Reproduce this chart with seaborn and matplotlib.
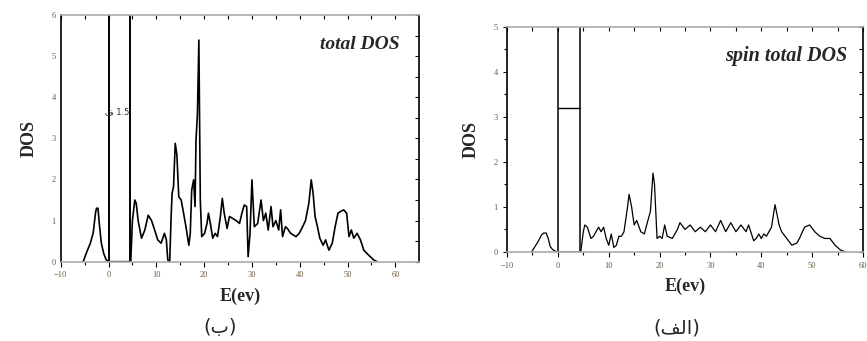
import matplotlib
matplotlib.use("Agg")
import matplotlib.pyplot as plt
import seaborn as sns
import pandas as pd

# ---------------- data ----------------
# left panel (ب): total DOS
total_E = [-5.3, -4.5, -3.8, -3.2, -2.7, -2.5, -2.2, -1.9, -1.5, -1.0, -0.5, 0.0,
           4.6, 4.65, 5.0, 5.5, 5.8, 6.2, 6.9, 7.6, 8.3, 9.0, 9.65, 10.3, 11.0, 11.7,
           12.1, 12.4, 12.8, 13.1, 13.3, 13.6, 13.96, 14.3, 14.7, 15.2, 15.7, 16.2,
           16.8, 17.1, 17.4, 17.8, 18.1, 18.3, 18.6, 18.9, 19.2, 19.5, 20.1, 20.6,
           20.9, 21.3, 21.8, 22.3, 22.8, 23.4, 23.8, 24.2, 24.8, 25.3, 26.0, 26.7,
           27.4, 27.9, 28.4, 28.9, 29.2, 29.6, 30.0, 30.5, 31.2, 31.9, 32.4, 32.9,
           33.4, 34.0, 34.4, 35.0, 35.6, 36.0, 36.4, 37.0, 37.4, 38.1, 39.2, 39.9,
           40.6, 41.2, 41.9, 42.4, 42.8, 43.2, 43.7, 44.2, 44.9, 45.4, 46.1, 46.8,
           47.4, 48.0, 48.5, 49.2, 49.8, 50.3, 50.8, 51.3, 52.0, 52.7, 53.4, 54.4,
           55.5, 56.2]
total_DOS = [0.0, 0.25, 0.45, 0.7, 1.2, 1.3, 1.3, 0.9, 0.45, 0.2, 0.05, 0.0,
             0.0, 0.0, 1.0, 1.5, 1.42, 1.0, 0.57, 0.77, 1.13, 1.0, 0.77, 0.53, 0.45, 0.69,
             0.53, 0.04, 0.0, 1.1, 1.66, 1.82, 2.88, 2.6, 1.58, 1.5, 1.18, 0.85,
             0.4, 0.69, 1.74, 1.99, 1.34, 2.96, 3.6, 5.39, 1.5, 0.61, 0.69, 0.93,
             1.18, 0.93, 0.57, 0.69, 0.61, 1.1, 1.54, 1.18, 0.81, 1.1, 1.05, 1.0,
             0.93, 1.18, 1.38, 1.34, 0.12, 0.69, 1.99, 0.85, 0.93, 1.5, 1.0, 1.18,
             0.77, 1.34, 0.85, 1.0, 0.77, 1.26, 0.61, 0.85, 0.81, 0.69, 0.61, 0.69,
             0.85, 1.0, 1.42, 1.99, 1.66, 1.1, 0.85, 0.57, 0.4, 0.53, 0.28, 0.45,
             0.85, 1.18, 1.22, 1.26, 1.18, 0.61, 0.77, 0.57, 0.69, 0.53, 0.28, 0.16,
             0.04, 0.0]
total_gap = [0.0, 4.6]

# right panel (الف): spin total DOS
spin_E = [-5.2, -4.5, -3.8, -3.2, -2.8, -2.3, -1.9, -1.5, -1.0, -0.5, -0.25,
          4.3, 4.5, 5.0, 5.3, 5.8, 6.5, 7.0, 8.0, 8.5, 9.0, 9.5, 10.0, 10.5, 11.0,
          11.5, 12.0, 12.5, 13.0, 13.7, 14.0, 14.5, 15.0, 15.5, 16.3, 17.0, 17.7,
          18.2, 18.7, 19.0, 19.5, 20.0, 20.5, 21.0, 21.5, 22.5, 23.5, 24.0, 25.0,
          26.0, 27.0, 28.0, 29.0, 30.0, 31.0, 32.0, 33.0, 34.0, 35.0, 36.0, 37.0,
          37.5, 38.5, 39.0, 39.5, 40.0, 40.5, 41.0, 42.0, 42.7, 43.5, 44.0, 45.0,
          46.0, 47.0, 47.5, 48.5, 49.5, 50.5, 51.5, 52.5, 53.5, 54.5, 55.5, 56.5]
spin_DOS = [0.0, 0.12, 0.25, 0.38, 0.42, 0.42, 0.3, 0.12, 0.05, 0.02, 0.0,
            0.0, 0.0, 0.45, 0.6, 0.55, 0.3, 0.35, 0.55, 0.45, 0.55, 0.3, 0.15, 0.4, 0.1,
            0.15, 0.35, 0.35, 0.45, 1.0, 1.28, 1.0, 0.6, 0.7, 0.45, 0.4, 0.7,
            0.9, 1.75, 1.5, 0.3, 0.35, 0.3, 0.6, 0.35, 0.3, 0.5, 0.65, 0.5,
            0.6, 0.45, 0.55, 0.45, 0.6, 0.45, 0.7, 0.45, 0.65, 0.45, 0.6, 0.45,
            0.6, 0.25, 0.3, 0.4, 0.3, 0.4, 0.35, 0.55, 1.05, 0.6, 0.45, 0.3,
            0.15, 0.2, 0.3, 0.55, 0.6, 0.45, 0.35, 0.3, 0.3, 0.15, 0.05, 0.0]
spin_gap = [0.0, 4.3]
spin_bracket_y = 3.2

x_ticks = [-10, 0, 10, 20, 30, 40, 50, 60]

# ---------------- style ----------------
sns.set_style("ticks")
plt.rcParams["font.family"] = ["Liberation Serif", "DejaVu Sans"]

fig = plt.figure(figsize=(8.67, 3.41), dpi=100)
axL = fig.add_axes([0.070, 0.2326, 0.4136, 0.7234])
axR = fig.add_axes([0.5848, 0.261, 0.4106, 0.661])

dfL = pd.DataFrame({"E": total_E, "DOS": total_DOS})
dfR = pd.DataFrame({"E": spin_E, "DOS": spin_DOS})

sns.lineplot(data=dfL, x="E", y="DOS", ax=axL, sort=False, estimator=None,
             color="black", linewidth=1.2)
sns.lineplot(data=dfR, x="E", y="DOS", ax=axR, sort=False, estimator=None,
             color="black", linewidth=0.9)

for g in total_gap:
    axL.axvline(g, color="black", linewidth=1.4)
for g in spin_gap:
    axR.axvline(g, color="black", linewidth=1.1)
axR.plot(spin_gap, [spin_bracket_y, spin_bracket_y], color="black", linewidth=1.0)

axL.set_xlim(-10, 65)
axL.set_ylim(0, 6)
axR.set_xlim(-10, 60)
axR.set_ylim(0, 5)

tick_color = "#6b5a40"
for ax, ytop, left_len in ((axL, 6, 0), (axR, 5, 3)):
    ax.set_xticks(x_ticks)
    ax.set_xticks([v + 5 for v in x_ticks[:-1]], minor=True)
    ax.set_yticks(range(ytop + 1))
    ax.set_yticks([v + 0.5 for v in range(ytop)], minor=True)
    ax.tick_params(axis="both", which="both", labelsize=6, labelcolor=tick_color,
                   color="black", width=0.8, direction="out", top=False, right=False)
    ax.tick_params(axis="x", which="major", length=3.5)
    ax.tick_params(axis="x", which="minor", length=2.5)
    ax.tick_params(axis="y", which="major", length=left_len)
    ax.tick_params(axis="y", which="minor", length=left_len * 0.7)
    # inward ticks on top and right edges
    sx = ax.secondary_xaxis("top")
    sx.set_xticks(x_ticks)
    sx.set_xticks([v + 5 for v in x_ticks[:-1]], minor=True)
    sx.tick_params(axis="x", which="both", direction="in", labeltop=False,
                   color="black", width=0.8, length=3)
    sx.spines["top"].set_visible(False)
    sy = ax.secondary_yaxis("right")
    sy.set_yticks(range(ytop + 1))
    sy.set_yticks([v + 0.5 for v in range(ytop)], minor=True)
    sy.tick_params(axis="y", which="both", direction="in", labelright=False,
                   color="black", width=0.8, length=3)
    sy.spines["right"].set_visible(False)
    for s in ("top", "bottom"):
        ax.spines[s].set_color("#aaaaaa")
        ax.spines[s].set_linewidth(1.2)
    for s in ("left", "right"):
        ax.spines[s].set_color("black")
        ax.spines[s].set_linewidth(1.2)
    ax.set_xlabel("E(ev)", fontsize=13, fontweight="bold", labelpad=6)
    ax.set_ylabel("DOS", fontsize=13, fontweight="bold", labelpad=10)

axL.text(0.946, 0.88, "total DOS", transform=axL.transAxes, ha="right", va="center",
         fontsize=14, fontweight="bold", fontstyle="italic")
axR.text(0.955, 0.87, "spin total DOS", transform=axR.transAxes, ha="right", va="center",
         fontsize=14.5, fontweight="bold", fontstyle="italic")
axL.text(4.4, 3.65, "\u0641 1.5", ha="right", va="center", fontsize=6,
         family=["DejaVu Sans"])

fig.text(220 / 867, 1 - 328 / 341, "(\u0628)", ha="center", va="center", fontsize=14,
         family=["DejaVu Sans"])
fig.text(677 / 867, 1 - 328 / 341, "(\uFED2\uFEDF\uFE8D)", ha="center", va="center",
         fontsize=14, family=["DejaVu Sans"])

fig.savefig("out.png", dpi=100)
